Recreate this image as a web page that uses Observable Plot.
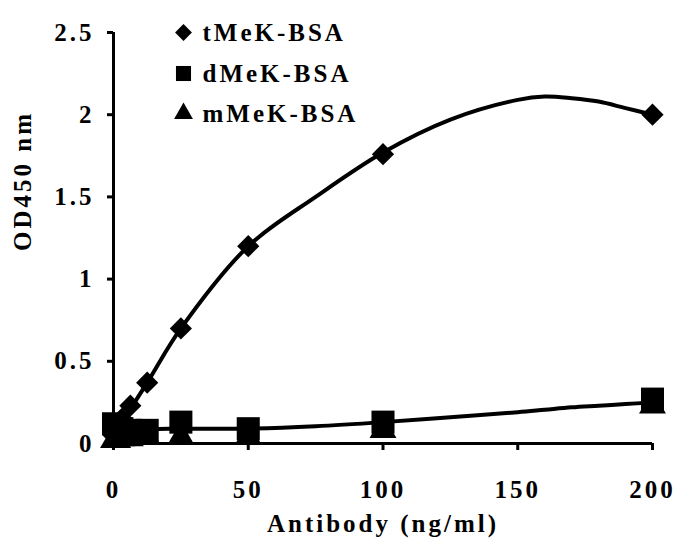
<!DOCTYPE html>
<html>
<head>
<meta charset="utf-8">
<script src="https://cdn.jsdelivr.net/npm/d3@7"></script>
<script src="https://cdn.jsdelivr.net/npm/@observablehq/plot@0.6"></script>
<style>
  html, body { margin: 0; padding: 0; background: #fff; }
  #chart { width: 685px; height: 553px; }
</style>
</head>
<body>
<div id="chart"></div>
<script>
// Antibody concentration (ng/ml)
const conc = [0, 1.5625, 3.125, 6.25, 12.5, 25, 50, 100, 200];
// OD450 readings per antigen
const tMeK = [0.05, 0.10, 0.15, 0.23, 0.37, 0.70, 1.20, 1.76, 2.00];
const dMeK = [0.12, 0.10, 0.09, 0.08, 0.08, 0.13, 0.09, 0.13, 0.27];
const mMeK = [0.02, 0.02, 0.03, 0.03, 0.04, 0.04, 0.04, 0.08, 0.23];
// fitted curves
const fitConc = [0, 12.5, 25, 50, 75, 100, 125, 150, 160, 170, 180, 190, 200];
const tMeKFit = [0.05, 0.37, 0.70, 1.20, 1.50, 1.77, 1.97, 2.09, 2.11, 2.10, 2.08, 2.04, 2.00];
const dMeKFit = [0.11, 0.09, 0.09, 0.09, 0.105, 0.13, 0.16, 0.19, 0.205, 0.22, 0.23, 0.24, 0.25];
// tick labels
const xTicks = [0, 50, 100, 150, 200];
const yTicks = [0, 0.5, 1, 1.5, 2, 2.5];
const seriesNames = ["tMeK-BSA", "dMeK-BSA", "mMeK-BSA"];
const xLabel = "Antibody (ng/ml)";
const yLabel = "OD450 nm";

const pts = (ys) => conc.map((x, i) => ({x, y: ys[i]}));
const fit = (ys) => fitConc.map((x, i) => ({x, y: ys[i]}));

const fam = "'Liberation Serif', 'Times New Roman', serif";
const fs = 25;

const chart = Plot.plot({
  width: 685,
  height: 553,
  marginLeft: 113,
  marginRight: 33,
  marginTop: 32,
  marginBottom: 110,
  style: {fontFamily: fam, fontWeight: "bold", fontSize: fs + "px", letterSpacing: "3px", color: "black", background: "white"},
  x: {domain: [0, 200]},
  y: {domain: [0, 2.5]},
  marks: [
    Plot.axisX({ticks: xTicks, tickSize: 7, tickPadding: 30, strokeWidth: 3, label: null, tickFormat: d => String(d), fontSize: fs}),
    Plot.axisY({ticks: yTicks, tickSize: 6, tickPadding: 13, strokeWidth: 3, label: null, tickFormat: d => String(d), fontSize: fs}),
    Plot.ruleY([0], {strokeWidth: 3}),
    Plot.ruleX([0], {strokeWidth: 3}),
    Plot.line(fit(tMeKFit), {x: "x", y: "y", curve: "catmull-rom", strokeWidth: 4, stroke: "black"}),
    Plot.line(fit(dMeKFit), {x: "x", y: "y", curve: "catmull-rom", strokeWidth: 4, stroke: "black"}),
    Plot.dot(pts(tMeK), {x: "x", y: "y", symbol: "diamond2", r: 10, fill: "black", stroke: "none"}),
    Plot.dot(pts(dMeK), {x: "x", y: "y", symbol: "square", r: 13, fill: "black", stroke: "none"}),
    Plot.dot(pts(mMeK), {x: "x", y: "y", symbol: "triangle", r: 10, fill: "black", stroke: "none"}),
    // legend
    Plot.dot([0], {frameAnchor: "top-left", dx: 70, dy: 0, symbol: "diamond2", r: 7.6, fill: "black", stroke: "none"}),
    Plot.dot([0], {frameAnchor: "top-left", dx: 70, dy: 41, symbol: "square", r: 8.5, fill: "black", stroke: "none"}),
    Plot.dot([0], {frameAnchor: "top-left", dx: 70, dy: 81, symbol: "triangle", r: 7, fill: "black", stroke: "none"}),
    Plot.text([seriesNames[0]], {frameAnchor: "top-left", dx: 89, dy: 0, textAnchor: "start", lineAnchor: "middle", fontSize: fs, fill: "black"}),
    Plot.text([seriesNames[1]], {frameAnchor: "top-left", dx: 89, dy: 41, textAnchor: "start", lineAnchor: "middle", fontSize: fs, fill: "black"}),
    Plot.text([seriesNames[2]], {frameAnchor: "top-left", dx: 89, dy: 81, textAnchor: "start", lineAnchor: "middle", fontSize: fs, fill: "black"}),
    // axis titles
    Plot.text([xLabel], {frameAnchor: "bottom", dy: 80, lineAnchor: "middle", fontSize: fs, fill: "black"}),
    Plot.text([yLabel], {frameAnchor: "left", dx: -91, dy: 13, rotate: -90, lineAnchor: "middle", fontSize: fs, fill: "black"})
  ]
});
document.getElementById("chart").append(chart);
</script>
</body>
</html>
